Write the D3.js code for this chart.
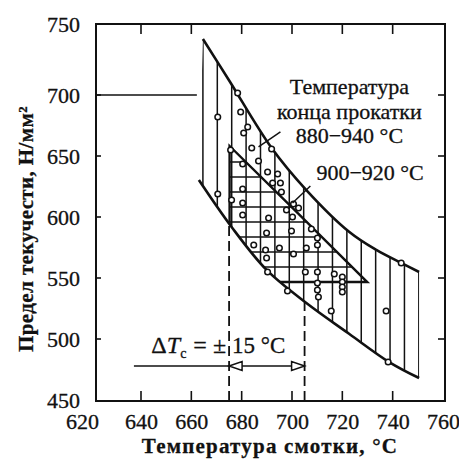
<!doctype html>
<html>
  <head>
    <meta charset="utf-8">
    <title>Предел текучести и температура смотки</title>
    <script src="https://cdnjs.cloudflare.com/ajax/libs/d3/7.8.5/d3.min.js"></script>
    <style>
      body { margin: 0; background: #fff; }
      svg text { font-family: "Liberation Serif", "DejaVu Serif", serif; fill: #111; stroke: #111; stroke-width: 0.3px; }
    </style>
  </head>
  <body>
    <div id="chart"></div>
    <script>

      // tick values
      const xTicks = [620, 640, 660, 680, 700, 720, 740, 760];
      const yTicks = [450, 500, 550, 600, 650, 700, 750];

      // band: finish rolling temperature 880-940 °C  [coiling T, yield strength]
      const upperEdge = [[664.6, 739.4], [674.9, 710.6], [691.9, 656.6], [705.7, 622.1],
                         [722.8, 587.7], [733.5, 573.0], [743.4, 562.3], [750.5, 554.9]];
      const lowerEdge = [[663.0, 630.3], [676.0, 591.8], [689.9, 556.6], [705.7, 529.5],
                         [722.8, 504.1], [738.6, 481.1], [750.5, 468.0]];

      // band: finish rolling temperature 900-920 °C
      const innerEdge = [[675.2, 658.2], [702.6, 602.5], [729.9, 546.7]];
      const innerBottom = 546.7;

      // measured points
      const points = [
        [670.5, 682.0], [678.4, 701.4], [679.6, 686.1], [682.4, 673.8], [680.8, 668.9],
        [684.0, 656.6], [675.6, 654.9], [691.9, 655.7], [686.7, 645.9], [680.4, 643.4],
        [690.3, 636.9], [694.3, 635.2], [692.3, 627.9], [695.4, 627.9], [695.8, 620.5],
        [680.4, 623.0], [670.5, 618.9], [676.0, 613.9], [680.4, 611.5], [700.6, 610.7],
        [702.6, 607.4], [697.8, 605.7], [680.4, 601.6], [690.7, 599.2], [700.2, 600.0],
        [689.9, 586.9], [699.8, 588.5], [707.7, 590.2], [710.1, 582.8], [710.1, 577.0],
        [705.7, 574.6], [695.0, 574.6], [684.8, 577.0], [700.6, 569.7], [689.9, 566.4],
        [689.5, 573.0], [690.3, 554.9], [705.3, 554.9], [710.1, 554.9], [716.8, 553.3],
        [720.0, 550.8], [720.0, 546.7], [720.0, 542.6], [720.0, 538.5], [710.1, 545.9],
        [710.1, 540.2], [710.5, 534.4], [698.2, 539.3], [715.6, 523.0], [737.4, 523.0],
        [738.2, 481.1], [743.4, 562.3]
      ];

      // coiling temperature window, ±15 °C
      const coilWindow = [675, 705];
      const arrowLevel = 477.9;
      const refLevel = 700;   // horizontal line from the axis

      const width = 459, height = 459;
      const frame = { left: 96, top: 24, right: 445, bottom: 401 };

      const x = d3.scaleLinear().domain([620, 640, 760]).range([82, 141, 443]);
      const y = d3.scaleLinear().domain([450, 700, 750]).range([400, 95, 24]);

      const svg = d3.select('#chart')
        .append('svg')
        .attr('width', width)
        .attr('height', height);

      const ink = '#111';

      // frame
      svg.append('rect')
        .attr('x', frame.left)
        .attr('y', frame.top)
        .attr('width', frame.right - frame.left)
        .attr('height', frame.bottom - frame.top)
        .attr('fill', 'none')
        .attr('stroke', ink)
        .attr('stroke-width', 2);

      // inner tick marks
      const xInner = xTicks.slice(1, -1);
      const yInner = yTicks.slice(1, -1);
      const ticks = svg.append('g').attr('stroke', ink).attr('stroke-width', 1.6);
      ticks.selectAll('.tb').data(xInner).join('line')
        .attr('x1', d => x(d)).attr('x2', d => x(d))
        .attr('y1', frame.bottom).attr('y2', frame.bottom - 10);
      ticks.selectAll('.tt').data(xInner).join('line')
        .attr('x1', d => x(d)).attr('x2', d => x(d))
        .attr('y1', frame.top).attr('y2', frame.top + 10);
      ticks.selectAll('.tl').data(yInner).join('line')
        .attr('x1', frame.left).attr('x2', frame.left + 5)
        .attr('y1', d => y(d)).attr('y2', d => y(d));
      ticks.selectAll('.tr').data(yInner).join('line')
        .attr('x1', frame.right).attr('x2', frame.right - 7)
        .attr('y1', d => y(d)).attr('y2', d => y(d));

      // tick labels
      const xAxis = svg.append('g')
        .attr('transform', `translate(0,${frame.bottom})`)
        .call(d3.axisBottom(x).tickValues(xTicks).tickSize(0).tickPadding(12));
      const yAxis = svg.append('g')
        .attr('transform', `translate(${frame.left},0)`)
        .call(d3.axisLeft(y).tickValues(yTicks).tickSize(0).tickPadding(16));
      [xAxis, yAxis].forEach(g => {
        g.select('.domain').remove();
        g.selectAll('text')
          .attr('font-family', '"Liberation Serif", serif')
          .attr('font-size', 22)
          .attr('fill', ink);
      });

      // band outline helpers
      const line = d3.line()
        .x(d => x(d[0]))
        .y(d => y(d[1]))
        .curve(d3.curveCatmullRom);
      const poly = d3.line().x(d => x(d[0])).y(d => y(d[1]));

      const defs = svg.append('defs');
      defs.append('clipPath').attr('id', 'band')
        .append('path')
        .attr('d', line(upperEdge) + 'L' + line(lowerEdge.slice().reverse()).slice(1) + 'Z');

      const innerPoly = [...innerEdge, [innerEdge[0][0], innerBottom]];
      defs.append('clipPath').attr('id', 'inner')
        .append('path')
        .attr('d', poly(innerPoly) + 'Z');

      // vertical hatch for 880-940 °C
      const banded = svg.append('g').attr('clip-path', 'url(#band)');
      const hatchX = d3.range(upperEdge[0][0], 751, 5.72);
      banded.selectAll('.vh').data(hatchX).join('line')
        .attr('x1', d => x(d)).attr('x2', d => x(d))
        .attr('y1', frame.top).attr('y2', frame.bottom)
        .attr('stroke', ink).attr('stroke-width', 1.5);

      // horizontal hatch for 900-920 °C
      const hatchY = d3.range(innerBottom, 662, 12.3);
      banded.append('g').attr('clip-path', 'url(#inner)')
        .selectAll('line').data(hatchY).join('line')
        .attr('x1', frame.left).attr('x2', frame.right)
        .attr('y1', d => y(d)).attr('y2', d => y(d))
        .attr('stroke', ink).attr('stroke-width', 1.5);

      // inner band outline
      banded.append('path')
        .attr('d', poly(innerPoly) + 'Z')
        .attr('fill', 'none').attr('stroke', ink).attr('stroke-width', 2.4);

      // outer band edges
      svg.selectAll('.edge').data([upperEdge, lowerEdge]).join('path')
        .attr('d', line)
        .attr('fill', 'none')
        .attr('stroke', ink)
        .attr('stroke-width', 2.6);

      // dashed window lines, from the axis up to the band
      const lowerAt = v => {
        const i = d3.bisector(d => d[0]).right(lowerEdge, v);
        const a = lowerEdge[i - 1], b = lowerEdge[i];
        return a[1] + (b[1] - a[1]) * (v - a[0]) / (b[0] - a[0]);
      };
      svg.selectAll('.dash').data(coilWindow).join('line')
        .attr('x1', d => x(d)).attr('x2', d => x(d))
        .attr('y1', frame.bottom).attr('y2', d => y(lowerAt(d)))
        .attr('stroke', ink)
        .attr('stroke-width', 1.8)
        .attr('stroke-dasharray', '10,5');

      // reference line at 700 from the axis
      svg.append('line')
        .attr('x1', frame.left).attr('x2', x(662.2))
        .attr('y1', y(refLevel)).attr('y2', y(refLevel))
        .attr('stroke', ink).attr('stroke-width', 1.5);

      // arrow for the ±15 °C window
      const ay = y(arrowLevel);
      svg.append('line')
        .attr('x1', x(637.6)).attr('x2', x(coilWindow[1]))
        .attr('y1', ay).attr('y2', ay)
        .attr('stroke', ink).attr('stroke-width', 1.5);
      const xl = x(coilWindow[0]), xr = x(coilWindow[1]);
      svg.append('path')
        .attr('d', `M${xl},${ay}L${xl + 13},${ay - 4.5}L${xl + 13},${ay + 4.5}Z`
                 + `M${xr},${ay}L${xr - 13},${ay - 4.5}L${xr - 13},${ay + 4.5}Z`)
        .attr('fill', '#fff').attr('stroke', ink).attr('stroke-width', 1.5);

      // points
      svg.selectAll('.pt').data(points).join('circle')
        .attr('cx', d => x(d[0]))
        .attr('cy', d => y(d[1]))
        .attr('r', 2.8)
        .attr('fill', '#fff')
        .attr('stroke', ink)
        .attr('stroke-width', 1.5);

      // leader lines for the labels
      const leaders = [
        [[695.4, 669.7], [686.7, 657.4]],
        [[707.3, 625.4], [700.2, 611.5]]
      ];
      svg.selectAll('.leader').data(leaders).join('path')
        .attr('d', poly)
        .attr('stroke', ink).attr('stroke-width', 1.5);

      // labels
      const label = svg.append('g').attr('font-size', 22);
      const outerLines = ['Температура', 'конца прокатки', '880−940 °C'];
      const outerBase = [700.7, 680.3, 660.7];
      label.selectAll('.ol').data(outerLines).join('text')
        .attr('x', x(722.8))
        .attr('y', (d, i) => y(outerBase[i]))
        .attr('text-anchor', 'middle')
        .text(d => d);
      label.append('text')
        .attr('x', x(709.7))
        .attr('y', y(630.3))
        .text('900−920 °C');

      // ΔTc = ± | 15 °C, split around the left dashed line
      const dt = label.append('text')
        .attr('x', x(coilWindow[0]) - 3)
        .attr('y', y(488.5))
        .attr('font-size', 24)
        .attr('text-anchor', 'end');
      dt.append('tspan').text('Δ');
      dt.append('tspan').attr('font-style', 'italic').text('T');
      dt.append('tspan').attr('font-size', 14).attr('dy', 5).text('c');
      dt.append('tspan').attr('dy', -5).attr('dx', 7).text('=');
      dt.append('tspan').attr('dx', 6).text('±');
      label.append('text')
        .attr('x', x(coilWindow[0]) + 3)
        .attr('y', y(488.5))
        .attr('font-size', 23)
        .text('15 °C');

      // axis titles
      svg.append('text')
        .attr('x', 270)
        .attr('y', 453)
        .attr('text-anchor', 'middle')
        .attr('font-size', 21)
        .attr('font-weight', 'bold')
        .attr('letter-spacing', 1.2)
        .text('Температура  смотки,  °C');

      svg.append('text')
        .attr('transform', 'translate(33,229) rotate(-90)')
        .attr('text-anchor', 'middle')
        .attr('font-size', 21)
        .attr('font-weight', 'bold')
        .attr('letter-spacing', 0.4)
        .text('Предел  текучести,  Н/мм²');

    </script>
  </body>
</html>
